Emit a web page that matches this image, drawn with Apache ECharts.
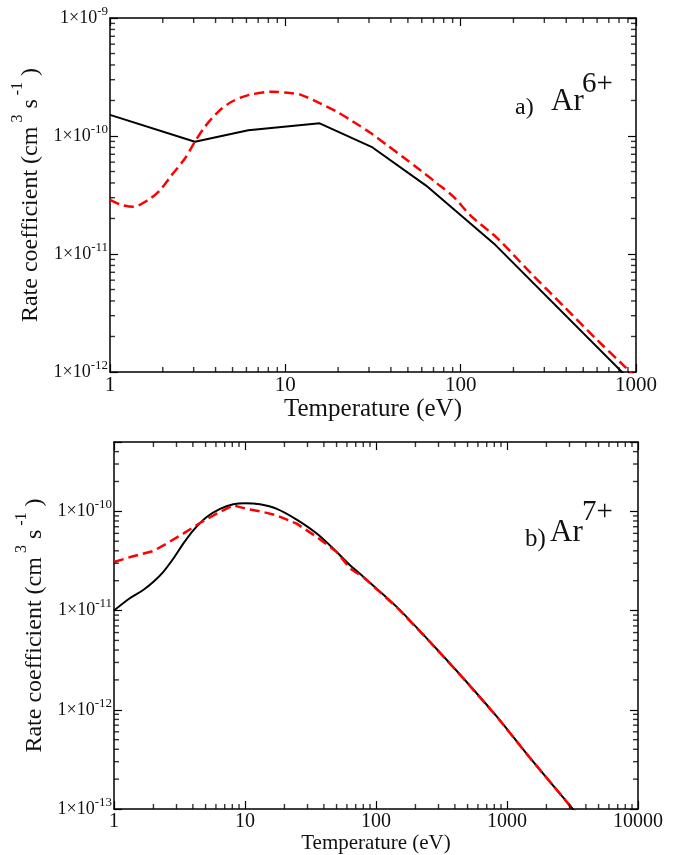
<!DOCTYPE html>
<html>
<head>
<meta charset="utf-8">
<script src="https://cdn.jsdelivr.net/npm/echarts@6/dist/echarts.min.js"></script>
<style>
html,body{margin:0;padding:0;background:#fff;}
#chart{width:675px;height:855px;}
</style>
</head>
<body>
<div id="chart"></div>
<script>
// ---------- Panel a) Ar6+ ----------
const tempA_black = [1, 3.05, 6.15, 15.7, 31, 63.5, 158, 1000];
const rateA_black = [1.51e-10, 8.95e-11, 1.12e-10, 1.28e-10, 8.1e-11, 3.8e-11, 1.19e-11, 7.6e-13];

const tempA_red = [1, 1.15, 1.36, 1.65, 1.93, 2.25, 2.68, 3.05, 3.48, 4.15, 4.94, 6.15, 8.36, 10.9, 12.4, 15.8, 19.6, 24.4, 30.4, 37.9, 47.1, 58.7, 73.1, 90.8, 115.6, 161, 249, 385, 600, 848, 1000];
const rateA_red = [2.87e-11, 2.62e-11, 2.52e-11, 2.87e-11, 3.48e-11, 4.67e-11, 6.47e-11, 8.95e-11, 1.20e-10, 1.61e-10, 1.95e-10, 2.22e-10, 2.37e-10, 2.30e-10, 2.22e-10, 1.89e-10, 1.61e-10, 1.32e-10, 1.07e-10, 8.4e-11, 6.6e-11, 5.15e-11, 3.98e-11, 3.06e-11, 2.07e-11, 1.37e-11, 6.98e-12, 3.63e-12, 1.87e-12, 1.14e-12, 8.9e-13];

// ---------- Panel b) Ar7+ ----------
const tempB_black = [1, 1.32, 1.67, 2.0, 2.38, 2.84, 3.38, 4.03, 5.1, 6.45, 8.14, 10, 13, 17.5, 24.8, 35.3, 50.1, 63.4, 80, 144, 258, 464, 834, 1500, 2690, 3175, 3500];
const rateB_black = [1.0e-11, 1.33e-11, 1.61e-11, 1.95e-11, 2.46e-11, 3.35e-11, 4.73e-11, 6.44e-11, 8.77e-11, 1.06e-10, 1.18e-10, 1.21e-10, 1.18e-10, 1.06e-10, 8.26e-11, 5.97e-11, 3.9e-11, 2.86e-11, 2.19e-11, 1.09e-11, 4.85e-12, 2.08e-12, 8.57e-13, 3.27e-13, 1.3e-13, 1.0e-13, 8.6e-14];

const tempB_red = [1, 1.4, 2.0, 2.52, 3.38, 4.53, 6.08, 8.14, 10.3, 13.8, 17.5, 24.8, 35.3, 50.1, 63.4, 80, 144, 258, 464, 834, 1500, 2690, 3175, 3500];
const rateB_red = [3.09e-11, 3.53e-11, 3.99e-11, 4.73e-11, 5.97e-11, 7.63e-11, 9.48e-11, 1.15e-10, 1.06e-10, 9.84e-11, 9.1e-11, 7.52e-11, 5.52e-11, 3.9e-11, 2.65e-11, 2.17e-11, 1.08e-11, 4.83e-12, 2.07e-12, 8.55e-13, 3.26e-13, 1.3e-13, 1.0e-13, 8.6e-14];

// axis ranges
const xRangeA = [1, 1000];
const yRangeA = [1e-12, 1e-9];
const xRangeB = [1, 10000];
const yRangeB = [1e-13, 5e-10];

const xTitle = 'Temperature (eV)';

function zip(xs, ys) { return xs.map((x, i) => [x, ys[i]]); }

function minorValues(range) {
  const out = [];
  const lo = Math.floor(Math.log10(range[0]));
  const hi = Math.ceil(Math.log10(range[1]));
  for (let d = lo; d < hi; d++) {
    for (let k = 2; k <= 9; k++) {
      const v = k * Math.pow(10, d);
      if (v > range[0] * 1.0001 && v < range[1] * 0.9999) out.push(v);
    }
  }
  return out;
}

function isPow10(v) {
  const l = Math.log10(v);
  return Math.abs(l - Math.round(l)) < 1e-6;
}

const FONT = '"Liberation Serif", "DejaVu Serif", serif';

function xAxisFor(gridIndex, range, pos, showLabel, labelSize, nameSize, nameGap) {
  return {
    type: 'log', logBase: 10, gridIndex, min: range[0], max: range[1], position: pos,
    splitNumber: 5,
    axisLine: { show: true, onZero: false, lineStyle: { color: '#000', width: 1.5 } },
    axisTick: { show: true, inside: true, length: 8, lineStyle: { color: '#000', width: 1.2 } },
    minorTick: { show: false },
    splitLine: { show: false },
    axisLabel: {
      show: showLabel, margin: 3, color: '#111', fontFamily: FONT, fontSize: labelSize,
      showMinLabel: true, showMaxLabel: true,
      formatter: v => isPow10(v) ? String(Math.round(v)) : ''
    },
    name: showLabel ? xTitle : '',
    nameLocation: 'middle', nameGap: nameGap,
    nameTextStyle: { fontFamily: FONT, fontSize: nameSize, color: '#111' }
  };
}

function yAxisFor(gridIndex, range, pos, showLabel, nameGap) {
  return {
    type: 'log', logBase: 10, gridIndex, min: range[0], max: range[1], position: pos,
    splitNumber: 5,
    axisLine: { show: true, onZero: false, lineStyle: { color: '#000', width: 1.5 } },
    axisTick: { show: true, inside: true, length: 8, lineStyle: { color: '#000', width: 1.2 } },
    minorTick: { show: false },
    splitLine: { show: false },
    axisLabel: {
      show: showLabel, margin: 2, color: '#111', fontFamily: FONT,
      showMinLabel: true, showMaxLabel: true,
      formatter: v => {
        if (!isPow10(v)) return '';
        const e = Math.round(Math.log10(v));
        return '{b|1\u00d710}{e|' + e + '}';
      },
      rich: {
        b: { fontFamily: FONT, fontSize: 18, lineHeight: 26, color: '#111' },
        e: { fontFamily: FONT, fontSize: 13, lineHeight: 13, verticalAlign: 'top', color: '#111' }
      }
    },
    name: showLabel ? '{t|Rate coefficient (cm}{s| 3}{t| s}{s| -1}{t| )}' : '',
    nameLocation: 'middle', nameRotate: 90, nameGap: nameGap,
    nameTextStyle: {
      rich: {
        t: { fontFamily: FONT, fontSize: 24, lineHeight: 42, color: '#111' },
        s: { fontFamily: FONT, fontSize: 16, lineHeight: 16, verticalAlign: 'top', color: '#111' }
      }
    }
  };
}

// minor ticks (2..9 per decade) drawn as thin rect symbols through the axes' own log scales
function minorTickSeries(xi, yi, xRange, yRange) {
  const L = 5, W = 1.4;
  const base = {
    type: 'scatter', xAxisIndex: xi, yAxisIndex: yi, symbol: 'rect', silent: true,
    clip: false, z: 6, itemStyle: { color: '#000' }, emphasis: { disabled: true }
  };
  const xs = minorValues(xRange);
  const ys = minorValues(yRange);
  return [
    Object.assign({}, base, { data: xs.map(v => [v, yRange[0]]), symbolSize: [W, L], symbolOffset: [0, -L / 2] }),
    Object.assign({}, base, { data: xs.map(v => [v, yRange[1]]), symbolSize: [W, L], symbolOffset: [0, L / 2] }),
    Object.assign({}, base, { data: ys.map(v => [xRange[0], v]), symbolSize: [L, W], symbolOffset: [L / 2, 0] }),
    Object.assign({}, base, { data: ys.map(v => [xRange[1], v]), symbolSize: [L, W], symbolOffset: [-L / 2, 0] })
  ];
}

const chart = echarts.init(document.getElementById('chart'), null, { renderer: 'canvas' });

const annotations = [
  { type: 'text', left: 515, top: 96, style: { text: 'a)', font: '24px ' + FONT, fill: '#111' } },
  { type: 'text', left: 551, top: 86, style: { text: 'Ar', font: '31px ' + FONT, fill: '#111' } },
  { type: 'text', left: 582, top: 70, style: { text: '6+', font: '29px ' + FONT, fill: '#111' } },
  { type: 'text', left: 525, top: 527, style: { text: 'b)', font: '25px ' + FONT, fill: '#111' } },
  { type: 'text', left: 550, top: 517, style: { text: 'Ar', font: '31px ' + FONT, fill: '#111' } },
  { type: 'text', left: 582, top: 498, style: { text: '7+', font: '29px ' + FONT, fill: '#111' } }
];

const option = {
  animation: false,
  backgroundColor: '#fff',
  grid: [
    { left: 110, right: 39, top: 18, bottom: 483, containLabel: false },
    { left: 114, right: 37, top: 442, bottom: 46, containLabel: false }
  ],
  xAxis: [
    xAxisFor(0, xRangeA, 'bottom', true, 21, 25, 20),
    xAxisFor(0, xRangeA, 'top', false, 21, 25, 20),
    xAxisFor(1, xRangeB, 'bottom', true, 20, 21, 22),
    xAxisFor(1, xRangeB, 'top', false, 20, 21, 22)
  ],
  yAxis: [
    yAxisFor(0, yRangeA, 'left', true, 56),
    yAxisFor(0, yRangeA, 'right', false, 56),
    yAxisFor(1, yRangeB, 'left', true, 52),
    yAxisFor(1, yRangeB, 'right', false, 52)
  ],
  series: [
    {
      type: 'line', xAxisIndex: 0, yAxisIndex: 0, data: zip(tempA_black, rateA_black),
      showSymbol: false, smooth: false, clip: true, z: 3,
      lineStyle: { color: '#000', width: 2 }
    },
    {
      type: 'line', xAxisIndex: 0, yAxisIndex: 0, data: zip(tempA_red, rateA_red),
      showSymbol: false, smooth: 0.3, clip: true, z: 4,
      lineStyle: { color: '#ff0000', width: 2.5, type: [10, 5] }
    },
    {
      type: 'line', xAxisIndex: 2, yAxisIndex: 2, data: zip(tempB_black, rateB_black),
      showSymbol: false, smooth: 0.3, clip: true, z: 3,
      lineStyle: { color: '#000', width: 2 }
    },
    {
      type: 'line', xAxisIndex: 2, yAxisIndex: 2, data: zip(tempB_red, rateB_red),
      showSymbol: false, smooth: false, clip: true, z: 4,
      lineStyle: { color: '#ff0000', width: 2.5, type: [10, 5] }
    }
  ].concat(minorTickSeries(0, 0, xRangeA, yRangeA), minorTickSeries(2, 2, xRangeB, yRangeB)),
  graphic: annotations
};

chart.setOption(option);
</script>
</body>
</html>
